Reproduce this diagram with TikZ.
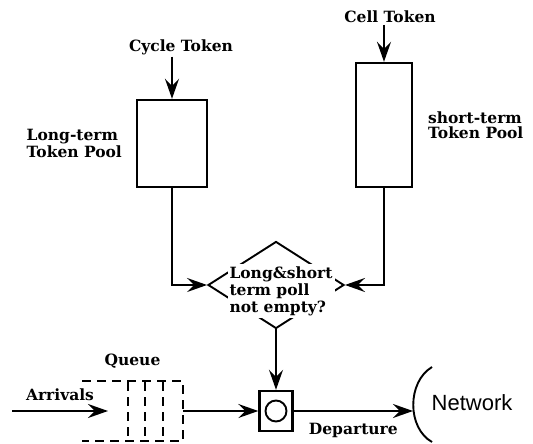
\documentclass[tikz,border=0pt]{standalone}
\usepackage{fontspec}
\newfontfamily\netfont{Liberation Sans}
\newfontfamily\lblfont{DejaVu Serif}
\usetikzlibrary{arrows.meta,positioning,shapes.geometric}

\begin{document}
\begin{tikzpicture}[
            x=1pt, y=-1pt,
            line width=1.9pt,
            arr/.style={-{Stealth[length=20pt,width=14pt,inset=7pt]}},
            pool/.style={draw, line width=2.4pt, minimum width=70pt},
            lbl/.style={font=\lblfont\bfseries\fontsize{15.5}{15}\selectfont, align=left, inner sep=1pt},
            qline/.style={dash pattern=on 9pt off 6pt, line width=1.9pt}]
    \useasboundingbox (0,0) rectangle (533,444);
    \node[pool, minimum height=87pt] (lpool) at (172,143.5) {};
    \node[pool, minimum width=56pt, minimum height=124pt] (spool) at (384,125) {};
    \node[lbl] (cycle) at (181,47) {Cycle Token};
    \node[lbl] (cell) at (390,17) {Cell Token};
    \node[lbl, left=12pt of lpool] (ltext) {Long-term\\Token Pool};
    \node[lbl, right=13pt of spool] (stext) {short-term\\Token Pool};
    \node[draw, diamond, minimum width=136pt, minimum height=87pt, inner sep=0pt] (poll) at (276,285) {};
    \node[lbl, font=\lblfont\bfseries\fontsize{15.5}{17}\selectfont, fill=white, inner sep=2pt] (polltext) at (281,291) {Long\&short\\term poll\\not empty?};
    \node[draw, line width=2.4pt, minimum width=33pt, minimum height=40pt] (srv) at (276,411) {};
    \node[draw, circle, minimum size=21pt, inner sep=0pt] (disc) at (srv) {};
    \node[minimum width=99pt, minimum height=58pt, inner sep=0pt] (queue) at (132.5,411) {};
    \node[lbl, above=11pt of queue] (qtext) {Queue};
    \node[font=\netfont\fontsize{22}{22}\selectfont] (net) at (472,403) {Network};
    \coordinate (in) at (12,411);
    \coordinate (inend) at (108,411);
    \coordinate (netedge) at (413,411);

    \draw[qline] (queue.north west) -- (queue.north east) -- (queue.south east) -- (queue.south west);
    \foreach \x in {128,145,163}
        \draw[qline] (\x,382) -- (\x,440);
    \draw (432,367) .. controls (407,382) and (407,428) .. (432,442);

    \draw[arr] (cycle.south -| lpool.north) -- (lpool.north);
    \draw[arr] (cell.south -| spool.north) -- (spool.north);
    \draw[arr] (lpool.south) |- (poll.west);
    \draw[arr] (spool.south) |- (poll.east);
    \draw[arr] (poll.south) -- (srv.north);
    \draw[arr] (in) -- (inend) node[lbl, midway, above=8pt] {Arrivals};
    \draw[arr] (queue.east) -- (srv.west);
    \draw[arr] (srv.east) -- (netedge) node[lbl, midway, below=10pt] {Departure};
\end{tikzpicture}
\end{document}
